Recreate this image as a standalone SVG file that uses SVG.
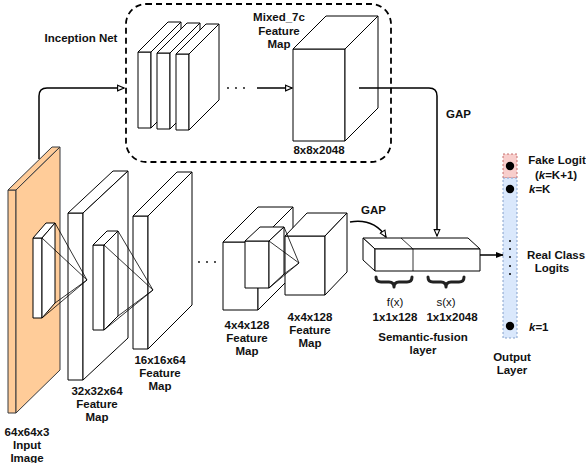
<svg xmlns="http://www.w3.org/2000/svg" width="586" height="463" viewBox="0 0 586 463">
<defs>
<style>
.b{fill:#fff;stroke:#000;stroke-width:1;stroke-linejoin:round}
.o{fill:#ffcc99;stroke:#36393d;stroke-width:1;stroke-linejoin:round}
.t{font-family:"Liberation Sans",Arial,sans-serif;font-size:11.5px;font-weight:bold;text-anchor:middle;fill:#111}
.r{font-weight:normal}
.s{text-anchor:start}
.c{fill:none;stroke:#000;stroke-width:1.5}
.p{fill:none;stroke:#000;stroke-width:0.8}
.br{fill:none;stroke:#222;stroke-width:3;stroke-linecap:round;stroke-linejoin:round}
</style>
<marker id="ao" viewBox="0 0 10 10" refX="9" refY="5" markerWidth="8" markerHeight="8" orient="auto" markerUnits="userSpaceOnUse">
<path d="M1,1.5 L9,5 L1,8.5 Z" fill="#fff" stroke="#000" stroke-width="1.4"/>
</marker>
<marker id="af" viewBox="0 0 10 10" refX="9" refY="5" markerWidth="8" markerHeight="8" orient="auto" markerUnits="userSpaceOnUse">
<path d="M0,1 L10,5 L0,9 Z" fill="#000"/>
</marker>
</defs>
<rect width="586" height="463" fill="#fff"/>

<g id="inception-net">
<rect x="126" y="4" width="265" height="158" rx="20" fill="none" stroke="#000" stroke-width="1.8" stroke-dasharray="6 4"/>
<text class="t" x="81" y="42">Inception Net</text>
</g>

<g id="inception-layer1">
<rect class="b" x="138" y="52" width="13" height="76"/>
<polygon class="b" points="138,52 151,52 181,22 168,22"/>
<polygon class="b" points="151,52 181,22 181,98 151,128"/>
</g>
<g id="inception-layer2">
<rect class="b" x="157" y="53" width="13" height="76"/>
<polygon class="b" points="157,53 170,53 200,23 187,23"/>
<polygon class="b" points="170,53 200,23 200,99 170,129"/>
</g>
<g id="inception-layer3">
<rect class="b" x="176" y="54" width="13" height="76"/>
<polygon class="b" points="176,54 189,54 219,24 206,24"/>
<polygon class="b" points="189,54 219,24 219,100 189,130"/>
</g>
<g id="inception-dots">
<circle cx="228" cy="88" r="0.9"/><circle cx="236" cy="88" r="0.9"/><circle cx="244" cy="88" r="0.9"/>
</g>

<g id="mixed7c">
<rect class="b" x="293" y="49" width="52" height="92"/>
<polygon class="b" points="293,49 345,49 378,16 326,16"/>
<polygon class="b" points="345,49 378,16 378,108 345,141"/>
<text class="t" x="279" y="21">Mixed_7c</text>
<text class="t" x="279" y="35">Feature</text>
<text class="t" x="279" y="48">Map</text>
<text class="t" x="319" y="154">8x8x2048</text>
</g>

<g id="input-image">
<rect class="o" x="8" y="190" width="8" height="223"/>
<polygon class="o" points="8,190 16,190 60,147 52,147"/>
<polygon class="o" points="16,190 60,147 60,370 16,413"/>
<text class="t" x="27" y="436">64x64x3</text>
<text class="t" x="27" y="449">Input</text>
<text class="t" x="27" y="462">Image</text>
</g>
<g id="kernel1">
<rect class="b" x="33" y="238" width="9" height="80"/>
<polygon class="b" points="33,238 42,238 55,223 46,223"/>
<polygon class="b" points="42,238 55,223 55,303 42,318"/>
</g>

<g id="fmap-32">
<rect class="b" x="68" y="213" width="15" height="167"/>
<polygon class="b" points="68,213 83,213 128,171 113,171"/>
<polygon class="b" points="83,213 128,171 128,338 83,380"/>
<text class="t" x="97" y="395">32x32x64</text>
<text class="t" x="97" y="408">Feature</text>
<text class="t" x="97" y="421">Map</text>
</g>
<g id="pyramid1">
<path class="p" d="M42,238 L87,280 M55,223 L87,280 M55,303 L87,280 M42,318 L87,280"/>
</g>
<g id="kernel2">
<rect class="b" x="93" y="245" width="11" height="85"/>
<polygon class="b" points="93,245 104,245 118,231 107,231"/>
<polygon class="b" points="104,245 118,231 118,316 104,330"/>
</g>

<g id="fmap-16">
<rect class="b" x="133" y="216" width="15" height="133"/>
<polygon class="b" points="133,216 148,216 192,172 177,172"/>
<polygon class="b" points="148,216 192,172 192,305 148,349"/>
<text class="t" x="160" y="364">16x16x64</text>
<text class="t" x="160" y="377">Feature</text>
<text class="t" x="160" y="390">Map</text>
</g>
<g id="pyramid2">
<path class="p" d="M104,245 L153,290 M118,231 L153,290 M118,316 L153,290 M104,330 L153,290"/>
</g>

<g id="mid-dots">
<circle cx="199" cy="262" r="0.9"/><circle cx="207" cy="262" r="0.9"/><circle cx="215" cy="262" r="0.9"/>
</g>

<g id="fmap-4a">
<rect class="b" x="223" y="242" width="35" height="68"/>
<polygon class="b" points="223,242 258,242 293,207 258,207"/>
<polygon class="b" points="258,242 293,207 293,275 258,310"/>
<text class="t" x="247" y="329">4x4x128</text>
<text class="t" x="247" y="342">Feature</text>
<text class="t" x="247" y="355">Map</text>
</g>
<g id="kernel3">
<rect class="b" x="245" y="241" width="24" height="47"/>
<polygon class="b" points="245,241 269,241 284,227 260,227"/>
<polygon class="b" points="269,241 284,227 284,274 269,288"/>
</g>
<g id="fmap-4b">
<rect class="b" x="285" y="236" width="40" height="59"/>
<polygon class="b" points="285,236 325,236 347,213 307,213"/>
<polygon class="b" points="325,236 347,213 347,272 325,295"/>
<text class="t" x="310" y="321">4x4x128</text>
<text class="t" x="310" y="334">Feature</text>
<text class="t" x="310" y="347">Map</text>
</g>
<g id="pyramid3">
<path class="p" d="M269,241 L299,263 M284,227 L299,263 M284,274 L299,263 M269,288 L299,263"/>
</g>

<g id="semantic-fusion">
<polygon class="b" points="363,238 468,238 480,249 375,249"/>
<polygon class="b" points="363,238 375,249 375,271 363,260"/>
<rect class="b" x="375" y="249" width="105" height="22"/>
<path class="p" d="M413,249 L413,271 M413,249 L401,238" stroke-width="1"/>
<path class="br" d="M376,277 Q376,282 381,282 L389,282 Q394,282 394,287 Q394,282 399,282 L407,282 Q412,282 412,277"/>
<path class="br" d="M428,277 Q428,282 433,282 L441,282 Q446,282 446,287 Q446,282 451,282 L459,282 Q464,282 464,277"/>
<text class="t r" x="395" y="306">f(x)</text>
<text class="t r" x="446" y="306">s(x)</text>
<text class="t" x="395" y="321">1x1x128</text>
<text class="t" x="452" y="321">1x1x2048</text>
<text class="t" x="423" y="341">Semantic-fusion</text>
<text class="t" x="423" y="354">layer</text>
</g>

<g id="output-layer">
<rect x="503" y="154" width="14" height="24" fill="#f8cecc" stroke="#b85450" stroke-width="0.8" stroke-dasharray="2 2"/>
<rect x="503" y="178" width="14" height="160" fill="#dae8fc" stroke="#6c8ebf" stroke-width="0.8" stroke-dasharray="2 2"/>
<circle cx="510" cy="166" r="4.2" fill="#000"/>
<circle cx="510" cy="189" r="4.2" fill="#000"/>
<circle cx="510" cy="326" r="4.2" fill="#000"/>
<circle cx="510" cy="241" r="1" fill="#000"/>
<circle cx="510" cy="249" r="1" fill="#000"/>
<circle cx="510" cy="257" r="1" fill="#000"/>
<circle cx="510" cy="266" r="1" fill="#000"/>
<circle cx="510" cy="274" r="1" fill="#000"/>
<text class="t" x="557" y="164">Fake Logit</text>
<text class="t" x="556" y="179">(<tspan font-style="italic">k</tspan>=K+1)</text>
<text class="t s" x="529" y="193"><tspan font-style="italic">k</tspan>=K</text>
<text class="t" x="556" y="259">Real Class</text>
<text class="t" x="552" y="272">Logits</text>
<text class="t s" x="529" y="331"><tspan font-style="italic">k</tspan>=1</text>
<text class="t" x="512" y="361">Output</text>
<text class="t" x="512" y="374">Layer</text>
</g>

<g id="connectors">
<path class="c" d="M39,159 L39,96 Q39,88 47,88 L124,88" marker-end="url(#ao)"/>
<path class="c" d="M257,88 L292,88" marker-end="url(#ao)"/>
<path class="c" d="M359,88 L429,88 Q437,88 437,96 L437,236" marker-end="url(#ao)"/>
<path class="c" d="M350,222 C368,219 379,226 386,237" marker-end="url(#ao)"/>
<path class="c" d="M480,255 L503,255" marker-end="url(#af)"/>
<text class="t s" x="446" y="118">GAP</text>
<text class="t s" x="361" y="214">GAP</text>
</g>
</svg>
